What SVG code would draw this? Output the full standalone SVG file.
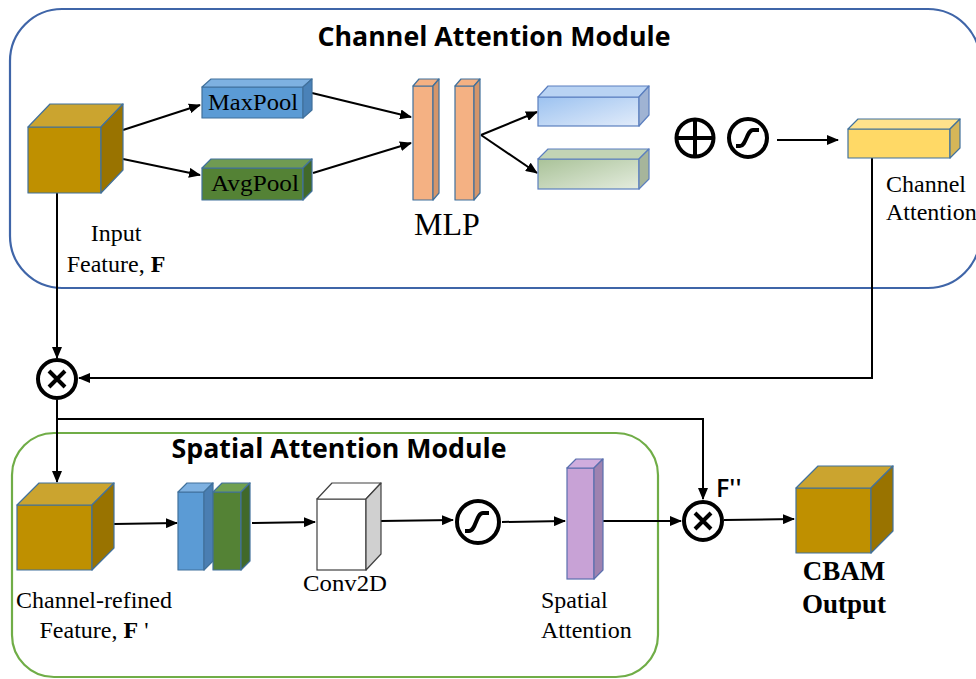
<svg xmlns="http://www.w3.org/2000/svg" width="976" height="679" viewBox="0 0 976 679">
<defs>
<marker id="ah" markerWidth="12" markerHeight="10" refX="11" refY="5" orient="auto" markerUnits="userSpaceOnUse">
<path d="M0,0 L12,5 L0,10 Z" fill="#000"/>
</marker>
<linearGradient id="gBlue" x1="0" y1="0" x2="1" y2="1">
<stop offset="0" stop-color="#9cc2f0"/><stop offset="1" stop-color="#e2ecfa"/>
</linearGradient>
<linearGradient id="gGreen" x1="0" y1="0" x2="1" y2="1">
<stop offset="0" stop-color="#a9c298"/><stop offset="1" stop-color="#e4ecde"/>
</linearGradient>
<style>
.conn{fill:none;stroke:#000;stroke-width:2}
.arr{marker-end:url(#ah)}
.edge{stroke:#41719c;stroke-width:1.2;stroke-linejoin:round}
.op{fill:#fff;stroke:#000;stroke-width:4}
.sym{fill:none;stroke:#000;stroke-width:4;stroke-linecap:butt}
.serif{font-family:"Liberation Serif","Times New Roman",serif;fill:#000}
.title{font-family:"Open Sans","Noto Sans",sans-serif;font-weight:bold;fill:#000}
</style>
</defs>

<g id="channel-module">
<rect x="10" y="9" width="970" height="279" rx="52" ry="52" fill="none" stroke="#3f65a8" stroke-width="2.2"/>
<text class="title" x="494" y="46" font-size="26" text-anchor="middle" textLength="353" lengthAdjust="spacingAndGlyphs">Channel Attention Module</text>
</g>

<g id="spatial-module">
<rect x="12" y="433" width="646" height="244" rx="42" ry="42" fill="none" stroke="#70ad47" stroke-width="2.2"/>
<text class="title" x="339" y="458" font-size="26" text-anchor="middle" textLength="335" lengthAdjust="spacingAndGlyphs">Spatial Attention Module</text>
</g>

<g id="connectors">
<path class="conn arr" d="M123,130 L200,105"/>
<path class="conn arr" d="M123,159 L200,175"/>
<path class="conn arr" d="M312,93 L411,117"/>
<path class="conn arr" d="M313,173 L411,143"/>
<path class="conn arr" d="M481,135 L537,112"/>
<path class="conn arr" d="M481,135 L537,173"/>
<path class="conn arr" d="M777,140 L838,140"/>
<path class="conn arr" d="M57,193 L57,358"/>
<path class="conn arr" d="M872,158 L872,378 L79,378"/>
<path class="conn arr" d="M57,400 L57,482"/>
<path class="conn arr" d="M57,419 L703,419 L703,499"/>
<path class="conn arr" d="M114,524 L177,523"/>
<path class="conn arr" d="M252,523 L315,522"/>
<path class="conn arr" d="M381,521 L453,520"/>
<path class="conn arr" d="M502,522 L565,521"/>
<path class="conn arr" d="M603,521 L681,521"/>
<path class="conn arr" d="M724,520 L794,519"/>
</g>

<g id="input-feature">
<rect x="28" y="127" width="73" height="66" fill="#bf9000" class="edge"/>
<polygon points="28,127 50,104 123,104 101,127" fill="#cba42f" class="edge"/>
<polygon points="101,127 123,104 123,170 101,193" fill="#997300" class="edge"/>
<text class="serif" x="116" y="241" font-size="24" text-anchor="middle">Input</text>
<text class="serif" x="116" y="272" font-size="24" text-anchor="middle">Feature, <tspan font-weight="bold">F</tspan></text>
</g>

<g id="maxpool">
<rect x="202" y="87" width="101" height="31" fill="#5b9bd5" class="edge"/>
<polygon points="202,87 211,79 312,79 303,87" fill="#7eb1e1" class="edge"/>
<polygon points="303,87 312,79 312,110 303,118" fill="#4a82b8" class="edge"/>
<text class="serif" x="253" y="110" font-size="23" text-anchor="middle" textLength="90" lengthAdjust="spacingAndGlyphs">MaxPool</text>
</g>

<g id="avgpool">
<rect x="202" y="168" width="101" height="32" fill="#548235" class="edge"/>
<polygon points="202,168 211,159 312,159 303,168" fill="#709b52" class="edge"/>
<polygon points="303,168 312,159 312,191 303,200" fill="#41692a" class="edge"/>
<text class="serif" x="255" y="191" font-size="23" text-anchor="middle" textLength="88" lengthAdjust="spacingAndGlyphs">AvgPool</text>
</g>

<g id="mlp">
<rect x="413" y="86" width="20" height="114" fill="#f4b183" class="edge"/>
<polygon points="413,86 419,79 439,79 433,86" fill="#f4b183" class="edge"/>
<polygon points="433,86 439,79 439,193 433,200" fill="#d4956a" class="edge"/>
<rect x="455" y="86" width="19" height="114" fill="#f4b183" class="edge"/>
<polygon points="455,86 461,79 480,79 474,86" fill="#f4b183" class="edge"/>
<polygon points="474,86 480,79 480,193 474,200" fill="#d4956a" class="edge"/>
<text class="serif" x="447" y="235" font-size="32" text-anchor="middle">MLP</text>
</g>

<g id="mlp-out-max">
<rect x="538" y="97" width="101" height="29" fill="url(#gBlue)" stroke="#5b7fbf" stroke-width="1.2"/>
<polygon points="538,97 548,86 649,86 639,97" fill="#b9d3f3" stroke="#5b7fbf" stroke-width="1.2" stroke-linejoin="round"/>
<polygon points="639,97 649,86 649,115 639,126" fill="#9fb3d3" stroke="#5b7fbf" stroke-width="1.2" stroke-linejoin="round"/>
</g>

<g id="mlp-out-avg">
<rect x="538" y="159" width="101" height="30" fill="url(#gGreen)" stroke="#5b7fbf" stroke-width="1.2"/>
<polygon points="538,159 548,149 649,149 639,159" fill="#c2d4b5" stroke="#5b7fbf" stroke-width="1.2" stroke-linejoin="round"/>
<polygon points="639,159 649,149 649,179 639,189" fill="#a6b59b" stroke="#5b7fbf" stroke-width="1.2" stroke-linejoin="round"/>
</g>

<g id="sum-op">
<circle class="op" cx="695" cy="138" r="18.5"/>
<path class="sym" d="M677,138 H713 M695,120 V156"/>
</g>

<g id="sigmoid-op-1">
<circle class="op" cx="748" cy="138" r="19"/>
<path class="sym" d="M736,146 H740 C746,146 747,130 753,130 H759"/>
</g>

<g id="channel-attention">
<rect x="848" y="129" width="102" height="29" fill="#ffd966" class="edge"/>
<polygon points="848,129 858,119 960,119 950,129" fill="#ffe28c" class="edge"/>
<polygon points="950,129 960,119 960,148 950,158" fill="#d6b658" class="edge"/>
<text class="serif" x="886" y="192" font-size="24">Channel</text>
<text class="serif" x="886" y="220" font-size="24">Attention</text>
</g>

<g id="mult-op-1">
<circle class="op" cx="57" cy="379" r="19"/>
<path class="sym" d="M49,371 L65,387 M65,371 L49,387"/>
</g>

<g id="channel-refined">
<rect x="17" y="505" width="75" height="65" fill="#bf9000" class="edge"/>
<polygon points="17,505 39,483 114,483 92,505" fill="#cba42f" class="edge"/>
<polygon points="92,505 114,483 114,548 92,570" fill="#997300" class="edge"/>
<text class="serif" x="94" y="608" font-size="24" text-anchor="middle" textLength="156" lengthAdjust="spacingAndGlyphs">Channel-refined</text>
<text class="serif" x="94" y="638" font-size="24" text-anchor="middle">Feature, <tspan font-weight="bold">F</tspan> '</text>
</g>

<g id="pooled-maps">
<rect x="178" y="492" width="26" height="78" fill="#5b9bd5" class="edge"/>
<polygon points="178,492 187,483 213,483 204,492" fill="#7eb1e1" class="edge"/>
<polygon points="204,492 213,483 213,561 204,570" fill="#4a7eb2" class="edge"/>
<rect x="213" y="492" width="28" height="78" fill="#548235" class="edge"/>
<polygon points="213,492 222,483 250,483 241,492" fill="#70a050" class="edge"/>
<polygon points="241,492 250,483 250,561 241,570" fill="#41692a" class="edge"/>
</g>

<g id="conv2d">
<rect x="317" y="499" width="49" height="71" fill="#fff" stroke="#404040" stroke-width="1.2"/>
<polygon points="317,499 332,483 381,483 366,499" fill="#fff" stroke="#404040" stroke-width="1.2" stroke-linejoin="round"/>
<polygon points="366,499 381,483 381,554 366,570" fill="#d0d0d0" stroke="#404040" stroke-width="1.2" stroke-linejoin="round"/>
<text class="serif" x="345" y="591" font-size="23" text-anchor="middle" textLength="84" lengthAdjust="spacingAndGlyphs">Conv2D</text>
</g>

<g id="sigmoid-op-2">
<circle class="op" cx="478" cy="522" r="21"/>
<path class="sym" d="M465,531 H469 C476,531 476,513 483,513 H489"/>
</g>

<g id="spatial-attention">
<rect x="567" y="468" width="27" height="111" fill="#c8a2d6" stroke="#5a6fae" stroke-width="1.2"/>
<polygon points="567,468 576,459 603,459 594,468" fill="#cfadde" stroke="#5a6fae" stroke-width="1.2" stroke-linejoin="round"/>
<polygon points="594,468 603,459 603,570 594,579" fill="#9e82b0" stroke="#5a6fae" stroke-width="1.2" stroke-linejoin="round"/>
<text class="serif" x="541" y="608" font-size="24">Spatial</text>
<text class="serif" x="541" y="638" font-size="24">Attention</text>
</g>

<g id="mult-op-2">
<circle class="op" cx="703" cy="521" r="19"/>
<path class="sym" d="M695,513 L711,529 M711,513 L695,529"/>
<text x="716" y="497" font-family="Open Sans, Noto Sans, sans-serif" font-size="25" font-weight="600" fill="#000">F''</text>
</g>

<g id="cbam-output">
<rect x="796" y="488" width="75" height="65" fill="#bf9000" class="edge"/>
<polygon points="796,488 818,466 893,466 871,488" fill="#cba42f" class="edge"/>
<polygon points="871,488 893,466 893,531 871,553" fill="#997300" class="edge"/>
<text class="serif" x="844" y="580" font-size="27" font-weight="bold" text-anchor="middle">CBAM</text>
<text class="serif" x="844" y="613" font-size="27" font-weight="bold" text-anchor="middle">Output</text>
</g>
</svg>
